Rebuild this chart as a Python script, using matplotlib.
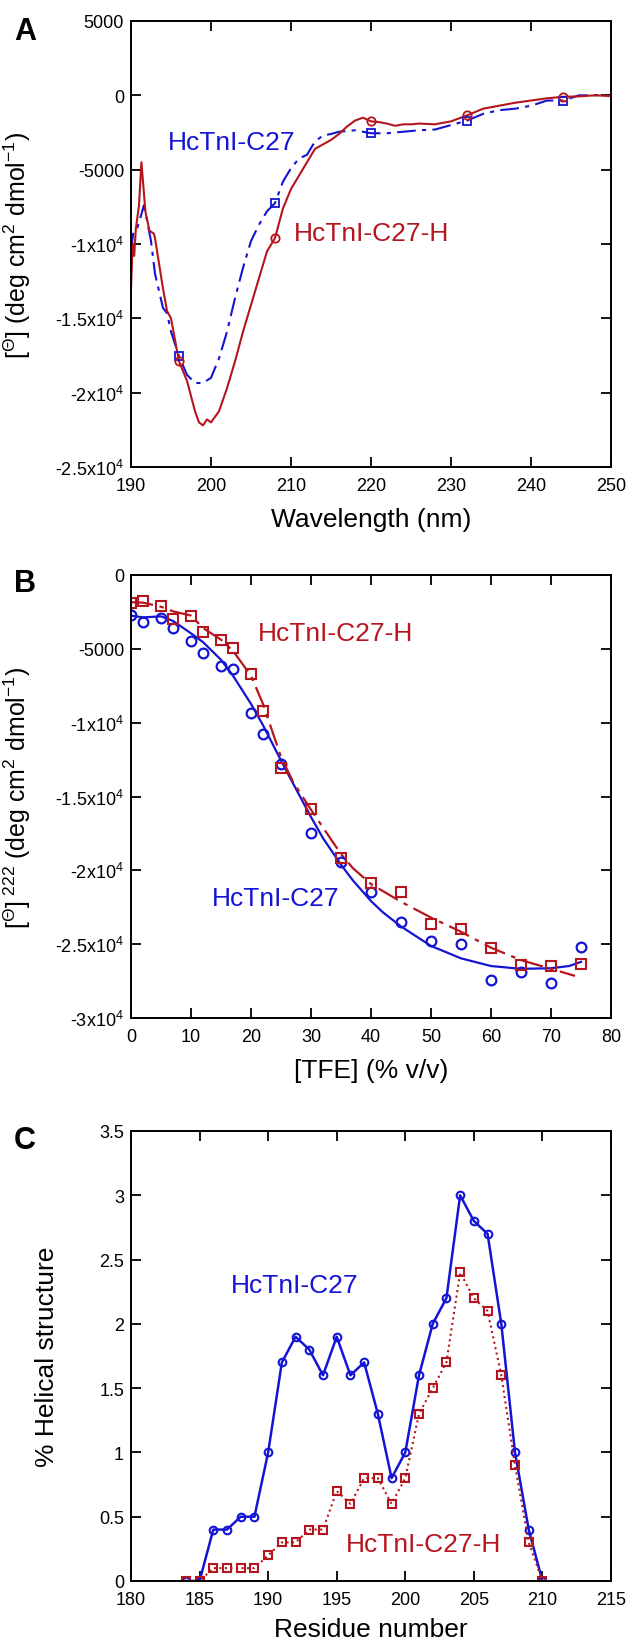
import numpy as np
import matplotlib
matplotlib.use("Agg")
import matplotlib.pyplot as plt
from matplotlib import font_manager
from matplotlib.ticker import FixedLocator, FixedFormatter

# ---- data ----
# Panel A: CD spectra (wavelength nm, mean residue ellipticity)
wl_c27 = [190, 190.3, 190.8, 191.3, 191.6, 192, 192.5, 193, 194, 194.5, 195, 196, 197, 198,
          199, 200, 201, 202, 203, 204, 205, 206, 207, 208, 209, 210, 211, 212, 213, 214,
          215, 216, 217, 218, 220, 222, 224, 226, 228, 230, 232, 234, 236, 238, 240, 242,
          244, 246, 248, 249]
theta_c27 = [-10500, -9200, -8900, -8000, -7400, -8400, -9800, -12000, -14300, -14650, -15900,
             -17550, -18800, -19350, -19350, -19000, -17700, -15900, -13650, -11600, -9800,
             -8700, -7800, -7250, -5800, -4900, -4250, -4000, -3100, -2700, -2600, -2450,
             -2400, -2350, -2550, -2550, -2450, -2350, -2300, -2000, -1700, -1250, -1000,
             -900, -700, -350, -350, 0, 0, 70]

wl_c27h = [190, 190.2, 190.4, 190.6, 191, 191.3, 191.8, 192.3, 192.85, 193, 194, 194.5, 195,
           196, 197, 198, 198.5, 199, 199.5, 200, 201, 202, 203, 204, 205, 206, 207, 208, 209,
           210, 211, 212, 213, 214, 215, 216, 217, 218, 219, 220, 221, 222, 223, 224, 225,
           226, 228, 230, 232, 234, 236, 238, 240, 242, 244, 246, 248, 250]
theta_c27h = [-13000, -10000, -10800, -9000, -7400, -4500, -7800, -9100, -9300, -9600, -13000,
              -14500, -15000, -17900, -19200, -21250, -22000, -22200, -21800, -22000, -21250,
              -19700, -17900, -15900, -14100, -12300, -10500, -9600, -7600, -6300, -5400,
              -4500, -3600, -3300, -3000, -2600, -2100, -1700, -1500, -1750, -1800, -1900,
              -2050, -1950, -1950, -1900, -1950, -1750, -1350, -900, -700, -500, -350, -200,
              -100, -70, 0, -50]

mark_wl = [196, 208, 220, 232, 244]
mark_c27 = [-17550, -7250, -2550, -1700, -350]
mark_c27h = [-17900, -9600, -1750, -1350, -100]

# Panel B: TFE titration at 222 nm
tfe = [0, 2, 5, 7, 10, 12, 15, 17, 20, 22, 25, 30, 35, 40, 45, 50, 55, 60, 65, 70, 75]
b_c27 = [-2700, -3180, -2940, -3590, -4470, -5290, -6150, -6340, -9350, -10770, -12800,
         -17460, -19450, -21480, -23520, -24760, -25000, -27460, -26910, -27630, -25190]
b_c27h = [-1870, -1750, -2100, -3000, -2800, -3830, -4380, -4950, -6720, -9210, -13090,
          -15840, -19140, -20860, -21460, -23640, -23970, -25260, -26440, -26510, -26320]

fit_x_c27 = [0, 2, 5, 7, 10, 12, 15, 17, 20, 22, 25, 27, 30, 32, 35, 37, 40, 42, 45, 50, 55,
             60, 65, 70, 73, 75]
fit_c27 = [-2750, -2870, -2800, -3110, -3950, -4545, -5740, -6820, -8730, -10170, -12560,
           -14110, -16390, -17820, -19620, -20690, -22080, -22850, -23800, -25120, -25960,
           -26480, -26670, -26630, -26480, -26200]
fit_x_c27h = [0, 2, 5, 7, 10, 12, 15, 17, 20, 22, 25, 27, 30, 35, 37, 40, 45, 50, 55, 60, 65,
              70, 74]
fit_c27h = [-1840, -1870, -2150, -2460, -2750, -3590, -4380, -5140, -6820, -8730, -12320,
            -14000, -15900, -18900, -19860, -20930, -22130, -23200, -24160, -25240, -26080,
            -26670, -27150]

# Panel C: helical propensity per residue
residue = list(range(184, 211))
helix_c27 = [0, 0, 0.4, 0.4, 0.5, 0.5, 1.0, 1.7, 1.9, 1.8, 1.6, 1.9, 1.6, 1.7, 1.3, 0.8, 1.0,
             1.6, 2.0, 2.2, 3.0, 2.8, 2.7, 2.0, 1.0, 0.4, 0.0]
helix_c27h = [0, 0, 0.1, 0.1, 0.1, 0.1, 0.2, 0.3, 0.3, 0.4, 0.4, 0.7, 0.6, 0.8, 0.8, 0.6, 0.8,
              1.3, 1.5, 1.7, 2.4, 2.2, 2.1, 1.6, 0.9, 0.3, 0.0]

# ticks
a_xticks = [190, 200, 210, 220, 230, 240, 250]
a_yticks = [-25000, -20000, -15000, -10000, -5000, 0, 5000]
a_ylabels = ['-2.5x10$^{4}$', '-2x10$^{4}$', '-1.5x10$^{4}$', '-1x10$^{4}$', '-5000', '0', '5000']
b_xticks = [0, 10, 20, 30, 40, 50, 60, 70, 80]
b_yticks = [-30000, -25000, -20000, -15000, -10000, -5000, 0]
b_ylabels = ['-3x10$^{4}$', '-2.5x10$^{4}$', '-2x10$^{4}$', '-1.5x10$^{4}$', '-1x10$^{4}$', '-5000', '0']
c_xticks = [180, 185, 190, 195, 200, 205, 210, 215]
c_yticks = [0, 0.5, 1, 1.5, 2, 2.5, 3, 3.5]
c_ylabels = ['0', '0.5', '1', '1.5', '2', '2.5', '3', '3.5']

BLUE = '#1414d4'
RED = '#b5161d'

plt.rcParams['font.family'] = ['Liberation Sans', 'DejaVu Sans']
plt.rcParams['mathtext.fontset'] = 'custom'
plt.rcParams['mathtext.rm'] = 'Liberation Sans'
plt.rcParams['mathtext.it'] = 'Liberation Sans:italic'
plt.rcParams['mathtext.bf'] = 'Liberation Sans:bold'

# tick labels in the original are set in a condensed face
installed = {f.name for f in font_manager.fontManager.ttflist}
if 'Liberation Sans Narrow' in installed:
    TICKFONT, TICKSIZE = ['Liberation Sans Narrow', 'DejaVu Sans'], 15
else:
    TICKFONT, TICKSIZE = ['Liberation Sans', 'DejaVu Sans'], 13

W, H = 626, 1640
fig = plt.figure(figsize=(W / 100, H / 100), dpi=100)


def make_axes(top_px, bottom_px):
    left, right = 131, 611
    return fig.add_axes([left / W, 1 - bottom_px / H, (right - left) / W,
                         (bottom_px - top_px) / H])


def style(ax, xt, yt, ylab, xlim, ylim):
    ax.set_xlim(*xlim)
    ax.set_ylim(*ylim)
    ax.xaxis.set_major_locator(FixedLocator(xt))
    ax.xaxis.set_major_formatter(FixedFormatter([f'{v:g}' for v in xt]))
    ax.yaxis.set_major_locator(FixedLocator(yt))
    ax.yaxis.set_major_formatter(FixedFormatter(ylab))
    ax.tick_params(direction='in', top=True, right=True, length=7, width=1.3,
                   labelsize=TICKSIZE)
    ax.tick_params(axis='x', pad=7)
    ax.tick_params(axis='y', pad=5)
    for lab in ax.get_xticklabels() + ax.get_yticklabels():
        lab.set_family(TICKFONT)
    for sp in ax.spines.values():
        sp.set_linewidth(1.4)


# ---- Panel A ----
axA = make_axes(22, 468)
axA.plot(wl_c27, theta_c27, color=BLUE, lw=1.5, dashes=(9, 3, 2, 3))
axA.plot(wl_c27h, theta_c27h, color=RED, lw=1.5)
axA.plot(mark_wl, mark_c27, ls='none', marker='s', ms=6, mfc='none', mec=BLUE, mew=1.3)
axA.plot(mark_wl, mark_c27h, ls='none', marker='o', ms=6, mfc='none', mec=RED, mew=1.3)
style(axA, a_xticks, a_yticks, a_ylabels, (190, 250), (-25000, 5000))
axA.set_xlabel('Wavelength (nm)', fontsize=19)
axA.set_ylabel(r'[$^{\Theta}$] (deg cm$^{2}$ dmol$^{-1}$)', fontsize=18)
axA.yaxis.set_label_coords(-0.205, 0.5)
axA.xaxis.set_label_coords(0.5, -0.09)
axA.text(194.6, -3130, 'HcTnI-C27', color=BLUE, fontsize=19, va='center', ha='left')
axA.text(210.4, -9280, 'HcTnI-C27-H', color=RED, fontsize=19, va='center', ha='left')

# ---- Panel B ----
axB = make_axes(576, 1019)
axB.plot(fit_x_c27, fit_c27, color=BLUE, lw=1.6)
axB.plot(fit_x_c27h, fit_c27h, color=RED, lw=1.6, dashes=(10, 3, 2, 3))
axB.plot(tfe, b_c27, ls='none', marker='o', ms=7, mfc='none', mec=BLUE, mew=1.6)
axB.plot(tfe, b_c27h, ls='none', marker='s', ms=7, mfc='none', mec=RED, mew=1.5)
style(axB, b_xticks, b_yticks, b_ylabels, (0, 80), (-30000, 0))
axB.set_xlabel('[TFE] (% v/v)', fontsize=19)
axB.set_ylabel(r'[$^{\Theta}$]$^{\ 222}$ (deg cm$^{2}$ dmol$^{-1}$)', fontsize=18)
axB.yaxis.set_label_coords(-0.205, 0.5)
axB.xaxis.set_label_coords(0.5, -0.09)
axB.text(21.1, -3900, 'HcTnI-C27-H', color=RED, fontsize=19, va='center', ha='left')
axB.text(13.5, -21900, 'HcTnI-C27', color=BLUE, fontsize=19, va='center', ha='left')

# ---- Panel C ----
axC = make_axes(1132, 1582)
axC.plot(residue, helix_c27, color=BLUE, lw=1.8, marker='o', ms=5.5, mfc='none',
         mec=BLUE, mew=1.5)
axC.plot(residue, helix_c27h, color=RED, lw=1.5, ls=':', marker='s', ms=5.5, mfc='none',
         mec=RED, mew=1.5)
style(axC, c_xticks, c_yticks, c_ylabels, (180, 215), (0, 3.5))
axC.set_xlabel('Residue number', fontsize=19)
axC.set_ylabel('% Helical structure', fontsize=19)
axC.yaxis.set_label_coords(-0.15, 0.5)
axC.xaxis.set_label_coords(0.5, -0.08)
axC.text(187.3, 2.3, 'HcTnI-C27', color=BLUE, fontsize=19, va='center', ha='left')
axC.text(195.7, 0.29, 'HcTnI-C27-H', color=RED, fontsize=19, va='center', ha='left')

# panel letters
for letter, ypx in [('A', 32), ('B', 584), ('C', 1141)]:
    fig.text(25 / W, 1 - ypx / H, letter, fontsize=22, fontweight='bold',
             ha='center', va='center')

fig.savefig('out.png', dpi=100)
